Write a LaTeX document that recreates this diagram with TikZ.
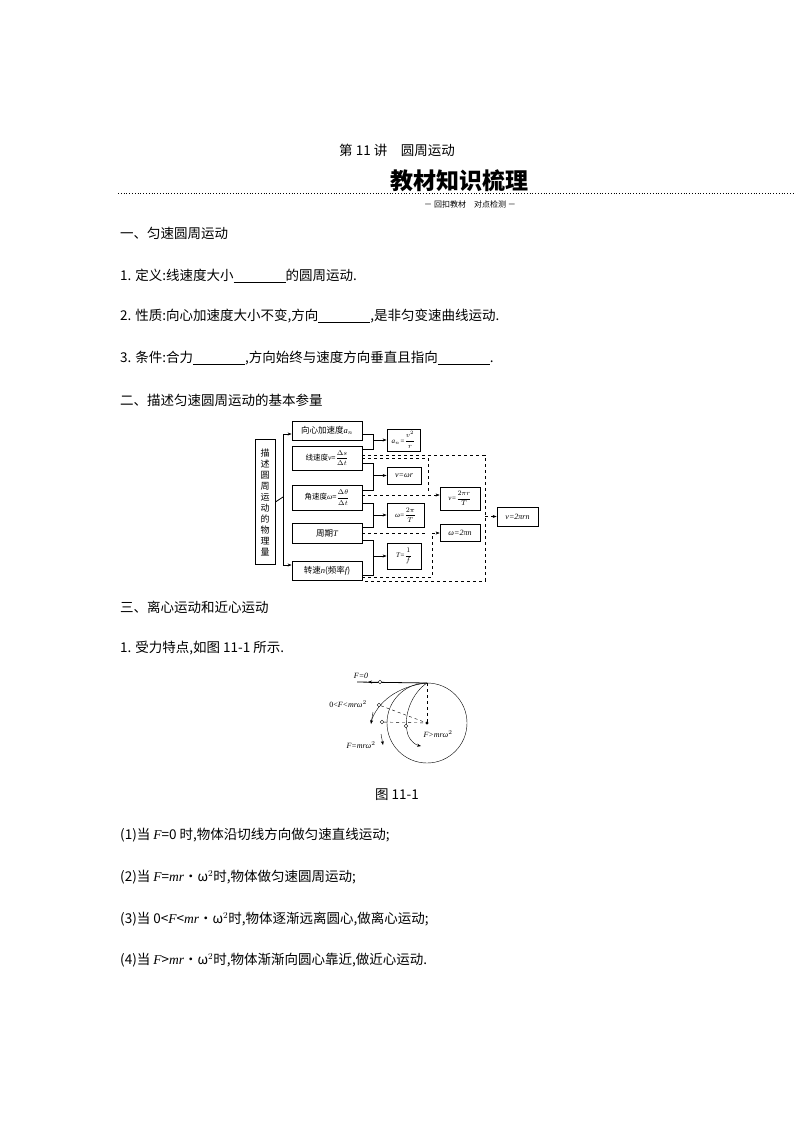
\documentclass[tikz,border=0pt]{standalone}
\usepackage{amsmath}
\usepackage{fontspec}
\setmainfont{Noto Sans CJK SC}
\newfontfamily\tms{Liberation Serif}
\usetikzlibrary{arrows.meta}
\begin{document}
\begin{tikzpicture}[x=1pt,y=-1pt,
  txt/.style={anchor=west,font=\fontsize{13.5}{15}\selectfont,inner sep=0},
  bx/.style={draw,thick,minimum width=70pt,inner sep=0pt,font=\fontsize{8.5}{9}\selectfont},
  rb/.style={draw,thick,inner sep=1pt,font=\fontsize{8}{8}\selectfont\tms\itshape},
  ar/.style={-{Stealth[length=4pt]}},
  dl/.style={dashed,thin}]
\useasboundingbox (0,0) rectangle (794,1123);
\node (t1) at (397,150) {\fontsize{13.5}{15}\selectfont 第 11 讲\quad 圆周运动};
\node (t2) at (459,181) {\fontsize{23}{24}\selectfont\bfseries 教材知识梳理};
\draw[dotted,thick] (118,193) -- (794,193);
\node (t3) at (470,204) {\fontsize{8}{9}\selectfont － 回扣教材\quad 对点检测 －};
\node[txt] (l1) at (120,233) {一、匀速圆周运动};
\node[txt] (l2) at (120,276) {1. 定义:线速度大小\underline{\hspace{52pt}}的圆周运动.};
\node[txt] (l3) at (120,316) {2. 性质:向心加速度大小不变,方向\underline{\hspace{52pt}},是非匀变速曲线运动.};
\node[txt] (l4) at (120,358) {3. 条件:合力\underline{\hspace{52pt}},方向始终与速度方向垂直且指向\underline{\hspace{52pt}}.};
\node[txt] (l5) at (120,400) {二、描述匀速圆周运动的基本参量};
% flowchart
\node[draw,thick,minimum width=20pt,minimum height=125pt,inner sep=0,align=center,font=\fontsize{9}{11}\selectfont] (L) at (265,502) {描\\述\\圆\\周\\运\\动\\的\\物\\理\\量};
\node[bx,minimum height=19pt] (b1) at (327,430.5) {向心加速度{\tms\itshape a}$_n$};
\node[bx,minimum height=24pt,font=\fontsize{7.5}{8}\selectfont] (b2) at (327,458) {线速度{\tms\itshape v}=$\dfrac{\Delta s}{\Delta t}$};
\node[bx,minimum height=25pt,font=\fontsize{7.5}{8}\selectfont] (b3) at (327,497.5) {角速度{\tms\itshape ω}=$\dfrac{\Delta\theta}{\Delta t}$};
\node[bx,minimum height=20pt] (b4) at (327,533) {周期{\tms\itshape T}};
\node[bx,minimum height=19pt] (b5) at (327,570.5) {转速{\tms\itshape n}(频率{\tms\itshape f})};
\node[rb,minimum height=22pt,minimum width=33pt,font=\fontsize{7}{8}\selectfont\tms\itshape] (r1) at (403.5,440) {a$_n$=$\dfrac{v^2}{r}$};
\node[rb,minimum height=17pt,minimum width=34pt] (r2) at (404,475.5) {v=ωr};
\node[rb,minimum height=24pt,minimum width=37pt,font=\fontsize{7}{8}\selectfont\tms\itshape] (r3) at (405.5,515) {ω=$\dfrac{2\pi}{T}$};
\node[rb,minimum height=26pt,minimum width=34pt,font=\fontsize{7}{8}\selectfont\tms\itshape] (r4) at (404,556) {T=$\dfrac{1}{f}$};
\node[rb,minimum height=23pt,minimum width=40pt,font=\fontsize{7}{8}\selectfont\tms\itshape] (r5) at (460,498.5) {v=$\dfrac{2\pi r}{T}$};
\node[rb,minimum height=17pt,minimum width=40pt] (r6) at (460,532.5) {ω=2πn};
\node[rb,minimum height=19pt,minimum width=41pt] (r7) at (517.5,516.5) {v=2πrn};
\coordinate (bk) at (283,497);
\draw[thick] (L.east) -- (bk);
\draw[thick,ar] (283,434) -- (b1.west |- 0,434);
\draw[thick] (283,434) -- (283,565);
\draw[thick,ar] (283,565) -- (b5.west |- 0,565);
\draw[thick] (b1.east |- 0,434) -| (373,449) -- (b2.east |- 0,449);
\draw[thick,ar] (373,440) -- (r1.west);
\draw[thick] (b2.east |- 0,463) -| (373,490) -- (b3.east |- 0,490);
\draw[thick,ar] (373,475.5) -- (r2.west);
\draw[thick] (b3.east |- 0,503) -| (373,527) -- (b4.east |- 0,527);
\draw[thick,ar] (373,515) -- (r3.west);
\draw[thick] (b4.east |- 0,540) -| (373,575) -- (b5.east |- 0,575);
\draw[thick,ar] (373,556) -- (r4.west);
% dashed
\draw[dl] (b2.east |- 0,455) -- (485,455) -- (485,581) -- (b5.east |- 0,581);
\draw[dl,ar] (485,516.5) -- (r7.west);
\draw[dl] (b2.east |- 0,458) -- (428,458) -- (428,494);
\draw[dl,ar] (b3.east |- 0,495) -- (r5.west |- 0,495);
\draw[dl] (b4.east |- 0,533) -- (425,533);
\draw[dl] (b5.east |- 0,577) -- (432,577) -- (432,533);
\draw[dl,ar] (432,533) -- (r6.west |- 0,533);
\node[txt] (l6) at (120,607) {三、离心运动和近心运动};
\node[txt] (l7) at (120,648) {1. 受力特点,如图 11-1 所示.};
% circle figure
\coordinate (O) at (427,723);
\node[draw,circle,minimum size=80pt,inner sep=0] (C) at (O) {};
\fill (O) circle (1.6pt);
\coordinate (top) at (427,683);
\draw[thick] (top) -- (357,682);
\draw[ar] (380,682) -- (368,682);
\node[draw,circle,fill=white,inner sep=1.3pt] (p0) at (380,682) {};
\draw[dashed] (top) -- (O);
\draw (top) .. controls (398,686) and (377,702) .. (371,722);
\draw[ar] (373,712) -- (371,724);
\draw (top) .. controls (413,692) and (402,715) .. (408,735);
\draw[ar] (408,735) .. controls (411,742) and (416,745) .. (421,746);
\node[draw,circle,fill=white,inner sep=1.3pt] (p1) at (379,705) {};
\node[draw,circle,fill=white,inner sep=1.3pt] (p2) at (382,722) {};
\node[draw,circle,fill=white,inner sep=1.3pt] (p3) at (406,726) {};
\draw[dashed] (p1) -- (O);
\draw[dashed] (p2) -- (O);
\draw[ar] (381,734) -- (383,745);
\node[font=\fontsize{8}{9}\selectfont\tms\itshape] (f0) at (361,676) {F=0};
\node[font=\fontsize{8}{9}\selectfont\tms\itshape] (f1) at (348,704) {\upshape 0<\itshape F<mrω$^2$};
\node[font=\fontsize{8}{9}\selectfont\tms\itshape] (f2) at (361,745) {F=mrω$^2$};
\node[font=\fontsize{8}{9}\selectfont\tms\itshape] (f3) at (438,734) {F>mrω$^2$};
\node (cap) at (397,795) {\fontsize{13.5}{15}\selectfont 图 11-1};
\node[txt] (m1) at (120,835) {(1)当 {\tms\itshape F}=0 时,物体沿切线方向做匀速直线运动;};
\node[txt] (m2) at (120,877) {(2)当 {\tms\itshape F}={\tms\itshape mr}·ω$^2$时,物体做匀速圆周运动;};
\node[txt] (m3) at (120,919) {(3)当 0<{\tms\itshape F}<{\tms\itshape mr}·ω$^2$时,物体逐渐远离圆心,做离心运动;};
\node[txt] (m4) at (120,960) {(4)当 {\tms\itshape F}>{\tms\itshape mr}·ω$^2$时,物体渐渐向圆心靠近,做近心运动.};
\end{tikzpicture}
\end{document}
